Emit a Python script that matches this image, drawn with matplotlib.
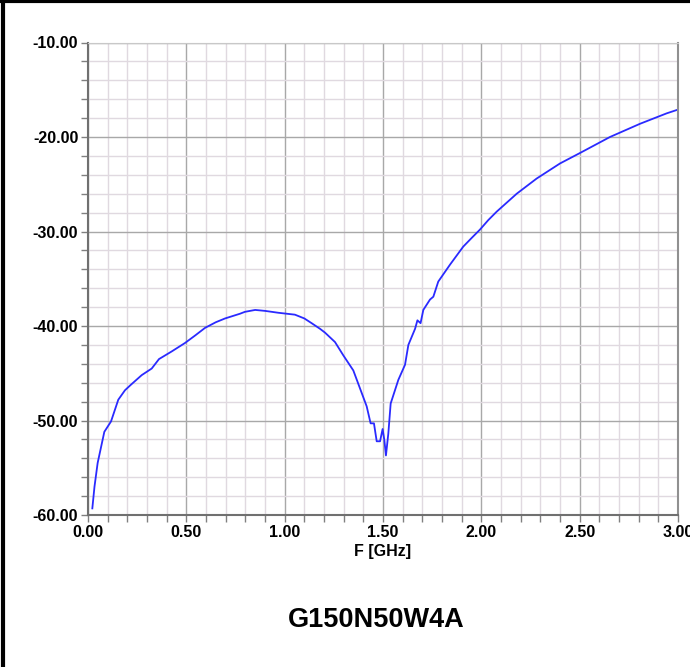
import numpy as np
import matplotlib.pyplot as plt
from matplotlib.ticker import MultipleLocator, FormatStrFormatter

plt.rcParams['font.family'] = ['Liberation Sans', 'DejaVu Sans']
plt.rcParams['font.weight'] = 'bold'

# frequency [GHz] and response [dB]
freq = [0.022, 0.033, 0.049, 0.083, 0.117, 0.154, 0.188, 0.219, 0.273, 0.324,
        0.361, 0.425, 0.493, 0.545, 0.595, 0.650, 0.697, 0.773, 0.798, 0.850,
        0.900, 0.968, 1.052, 1.100, 1.137, 1.180, 1.205, 1.256, 1.298, 1.349,
        1.383, 1.417, 1.437, 1.454, 1.468, 1.485, 1.498, 1.507, 1.515, 1.527,
        1.539, 1.578, 1.612, 1.629, 1.663, 1.675, 1.691, 1.705, 1.739, 1.756,
        1.781, 1.841, 1.908, 1.950, 1.993, 2.035, 2.078, 2.180, 2.281, 2.400,
        2.501, 2.654, 2.807, 2.942, 3.000]
resp = [-59.3, -57.0, -54.5, -51.2, -50.1, -47.8, -46.8, -46.2, -45.2, -44.5,
        -43.5, -42.7, -41.8, -41.0, -40.2, -39.6, -39.2, -38.7, -38.5, -38.3,
        -38.4, -38.6, -38.8, -39.2, -39.7, -40.3, -40.7, -41.7, -43.1, -44.7,
        -46.6, -48.5, -50.3, -50.3, -52.2, -52.2, -50.9, -52.1, -53.7, -51.4,
        -48.2, -45.7, -44.1, -42.0, -40.3, -39.4, -39.7, -38.3, -37.2, -36.9,
        -35.3, -33.5, -31.6, -30.7, -29.8, -28.8, -27.9, -26.0, -24.4, -22.8,
        -21.7, -20.0, -18.6, -17.5, -17.1]

title = "G150N50W4A"
xlabel = "F [GHz]"

fig = plt.figure(figsize=(6.9, 6.67), dpi=100)
ax = fig.add_axes([88/690, 1 - 515/667, 590/690, 472.5/667])

ax.plot(freq, resp, color='#2a2aff', lw=1.3)

ax.set_xlim(0, 3)
ax.set_ylim(-60, -10)
ax.xaxis.set_major_locator(MultipleLocator(0.5))
ax.xaxis.set_minor_locator(MultipleLocator(0.1))
ax.yaxis.set_major_locator(MultipleLocator(10))
ax.yaxis.set_minor_locator(MultipleLocator(2))
ax.xaxis.set_major_formatter(FormatStrFormatter('%.2f'))
ax.yaxis.set_major_formatter(FormatStrFormatter('%.2f'))

ax.grid(which='major', color='#a8a8a8', lw=1.0)
ax.grid(which='minor', color='#e0d9e0', lw=1.0)
ax.set_axisbelow(True)

ax.tick_params(which='both', direction='out', length=5, width=1, color='#808080',
               labelsize=11.5, pad=2)
ax.tick_params(top=False, right=False)

for side in ['left', 'bottom']:
    ax.spines[side].set_color('#707070')
    ax.spines[side].set_linewidth(1.5)
ax.spines['right'].set_color('#909090')
ax.spines['right'].set_linewidth(1.5)
ax.spines['top'].set_color('#c8c8c8')

ax.set_xlabel(xlabel, fontsize=11.5, fontweight='bold', labelpad=3)
fig.text(0.545, 1 - 620/667, title, fontsize=19.5, fontweight='bold',
         ha='center', va='center')

# frame lines on the top and left edges
fig.add_artist(plt.Line2D([0, 1], [0.998, 0.998], color='black', lw=3,
                          transform=fig.transFigure))
fig.add_artist(plt.Line2D([0.004, 0.004], [0, 1], color='black', lw=3,
                          transform=fig.transFigure))

fig.savefig('out.png', dpi=100)
